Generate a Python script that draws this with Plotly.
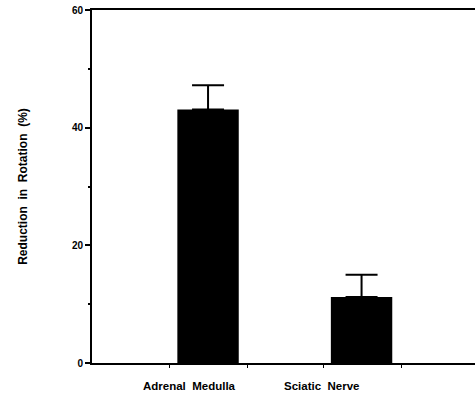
import plotly.graph_objects as go

categories = ["Adrenal  Medulla", "Sciatic  Nerve"]
values = [43.1, 11.2]
errors = [4.1, 3.8]
y_ticks = [0, 20, 40, 60]
y_minor = [10, 30, 50]
x_pos = [0, 1]
label_pos = [-0.12, 0.74]
x_ticks = [-0.25, 0.26, 0.75, 1.26]

fig = go.Figure()
fig.add_trace(go.Bar(
    x=x_pos, y=values, width=0.4,
    marker=dict(color="black", line=dict(width=0)),
    error_y=dict(type="data", array=errors, arrayminus=[0, 0], symmetric=False,
                 color="black", thickness=2, width=16),
))

for lx, txt in zip(label_pos, categories):
    fig.add_annotation(x=lx, y=0, xref="x", yref="y", text=txt, showarrow=False,
                       yanchor="top", yshift=-15,
                       font=dict(family="Liberation Sans", size=11.5, color="black", weight="bold"))

fig.update_layout(
    width=475, height=401,
    margin=dict(l=92, r=0, t=10, b=38),
    plot_bgcolor="white", paper_bgcolor="white",
    showlegend=False,
    xaxis=dict(range=[-0.756, 1.739], showline=True, linecolor="black", linewidth=2,
               mirror=True, tickvals=x_ticks, ticktext=["", "", "", ""],
               ticks="outside", ticklen=3, tickwidth=1, tickcolor="black",
               showgrid=False, zeroline=False),
    yaxis=dict(range=[0, 60], showline=True, linecolor="black", linewidth=2,
               tickvals=y_ticks, ticks="outside", ticklen=5, tickwidth=1.5, tickcolor="black",
               minor=dict(tickvals=y_minor, ticks="outside", ticklen=2, tickcolor="black"),
               showgrid=False, zeroline=False,
               tickfont=dict(family="Liberation Sans", size=10, color="black", weight="bold"),
               title=dict(text="Reduction  in  Rotation  (%)", standoff=42,
                          font=dict(family="Liberation Sans", size=12, color="black", weight="bold"))),
)

fig.write_html("out.html", config={"displayModeBar": False},
               post_script="document.body.style.margin='0';")
